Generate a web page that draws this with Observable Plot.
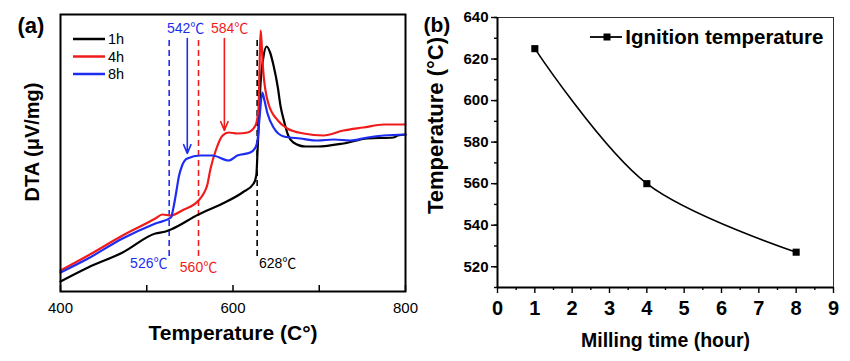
<!DOCTYPE html>
<html><head><meta charset="utf-8">
<script src="https://cdn.jsdelivr.net/npm/d3@7"></script>
<script src="https://cdn.jsdelivr.net/npm/@observablehq/plot@0.6"></script>
<style>
body{margin:0;background:#fff;}
#wrap{position:relative;width:850px;height:361px;font-family:"Liberation Sans",Arial,sans-serif;}
#wrap svg{position:absolute;top:0;overflow:visible;}
</style></head><body><div id="wrap"></div>
<script>
// ---- Panel (a): DTA curves (arbitrary units) ----
const t1h = [400,432,472,510,522,528,560,588,611,624,627,628.5,630,632,635,639,643,647,652,655,659,664,670,684,698,728,756,786,791,800];
const v1h = [10,24,39,58,60,62,77,88,99,108,116,141,171,209,233,245,239,226,204,186,171,156,149,145,145,148,153,154,156,157];
const t4h = [400,432,472,510,518,528,541,560,566,570,574,580,588,595,605,617,626,629.6,630.7,632,633,635,641,652,663,682,705,728,751,775,800];
const v4h = [21,36,56,73,77,76,81,91,98,106,123,141,156,159,158,159,166,183,221,261,251,221,188,171,163,158,156,161,164,167,167];
const t8h = [400,432,472,510,528,531,534.5,537,541,547,562,576,595,605,620,626,628.4,630.7,634,636.5,640,647,659,678,698,717,736,756,775,800];
const v8h = [19,33,53,68,74,84,101,114,126,133,136,136,131,136,139,144,151,173,199,191,178,164,155,153,151,152,151,154,156,157];
const seriesNames = ["1h","4h","8h"];
const seriesColors = ["#000000","#f01c1c","#1e2cf2"];

// dashed onset lines and labels
const onsetT = [526, 560, 628];
const onsetLabels = ["526℃","560℃","628℃"];
const onsetLabelT = [524, 560, 630];
const onsetAnchors = ["end","middle","start"];
const onsetColors = ["#1e2cf2","#f01c1c","#000000"];
const dashTop = 251, dashBottom = 35, onsetLabelV = [28, 24, 28];
// peak arrows and labels
const peakLabels = ["542℃","584℃"];
const peakLabelT = [545, 596];
const peakArrowT = [547, 590];
const peakArrowFrom = [253, 253];
const peakArrowTo = [138, 161];
const peakColors = ["#1e2cf2","#f01c1c"];
const peakLabelV = 263;

// ---- Panel (b) ----
const millingHours = [1, 4, 8];
const ignitionTemp = [625, 560, 527];

const font = '"Liberation Sans", Arial, sans-serif';
const annFont = '"Liberation Sans", "Noto Sans CJK KR", sans-serif';

const dta = [[t1h,v1h],[t4h,v4h],[t8h,v8h]].flatMap(([t,v],k) => t.map((x,i)=>({s:seriesNames[k], c:seriesColors[k], t:x, v:v[i]})));
const onsets = onsetT.map((t,i)=>({t, lt:onsetLabelT[i], label:onsetLabels[i], c:onsetColors[i], lv:onsetLabelV[i], anchor:onsetAnchors[i]}));
const peaks = peakLabels.map((l,i)=>({label:l, lt:peakLabelT[i], at:peakArrowT[i], v1:peakArrowFrom[i], v2:peakArrowTo[i], c:peakColors[i]}));

const plotA = Plot.plot({
  width: 420, height: 361,
  marginLeft: 60, marginRight: 15, marginTop: 14, marginBottom: 70,
  x: {domain: [400, 800]},
  y: {domain: [0, 277], axis: null},
  style: {fontFamily: font, background: "transparent", color: "#000"},
  marks: [
    Plot.ruleX(onsets, {x: "t", y1: dashBottom, y2: dashTop, stroke: "c", strokeWidth: 1.6, strokeDasharray: "6,4"}),
    Plot.line(dta, {x: "t", y: "v", z: "s", stroke: "c", strokeWidth: 2.2, curve: "monotone-x"}),
    Plot.arrow(peaks, {x1: "at", x2: "at", y1: "v1", y2: "v2", stroke: "c", strokeWidth: 1.6, headLength: 9, headAngle: 45}),
    Plot.text(peaks, {x: "lt", y: () => peakLabelV, text: "label", fill: "c", fontSize: 14, fontFamily: annFont}),
    ...onsetAnchors.map(a => Plot.text(onsets.filter(d => d.anchor === a), {x: "lt", y: "lv", text: "label", fill: "c", fontSize: 14, textAnchor: a, fontFamily: annFont})),
    Plot.frame({stroke: "#000", strokeWidth: 2}),
    Plot.axisX({ticks: [400,500,600,700,800], tickSize: -6, tickFormat: () => "", label: null, strokeWidth: 1.5}),
    Plot.axisX({ticks: [400,600,800], tickSize: 0, tickPadding: 11, fontSize: 15, label: null}),
    Plot.text(["Temperature (C°)"], {frameAnchor: "bottom", dy: 42, lineAnchor: "middle", fontSize: 21, fontWeight: "bold"}),
    Plot.text(["DTA (μV/mg)"], {frameAnchor: "left", dx: -28, dy: -11, rotate: -90, textAnchor: "middle", lineAnchor: "middle", fontSize: 20, fontWeight: "bold"}),
    Plot.text(["(a)"], {frameAnchor: "top-left", dx: -43, dy: 11, textAnchor: "start", lineAnchor: "middle", fontSize: 22, fontWeight: "bold"})
  ]
});

const ign = millingHours.map((h,i)=>({h, T: ignitionTemp[i]}));
const plotB = Plot.plot({
  width: 430, height: 361,
  marginLeft: 77, marginRight: 17, marginTop: 17, marginBottom: 74,
  x: {domain: [0, 9]},
  y: {domain: [510, 640]},
  style: {fontFamily: font, background: "transparent", color: "#000"},
  marks: [
    Plot.frame({stroke: "#333", strokeWidth: 1}),
    Plot.ruleX([0], {strokeWidth: 2}),
    Plot.ruleY([510], {strokeWidth: 2}),
    Plot.axisY({ticks: d3.range(510, 641, 10), tickSize: 3, tickFormat: () => "", label: null, strokeWidth: 1.4}),
    Plot.axisY({ticks: d3.range(520, 641, 20), tickSize: 6, tickPadding: 3, fontSize: 15, fontWeight: "bold", label: null, strokeWidth: 1.4}),
    Plot.axisX({ticks: d3.range(0.5, 9, 1), tickSize: 3, tickFormat: () => "", label: null, strokeWidth: 1.4}),
    Plot.axisX({ticks: d3.range(0, 10, 1), tickSize: 6, tickPadding: 7, fontSize: 20, fontWeight: "bold", label: null, strokeWidth: 1.4}),
    Plot.line(ign, {x: "h", y: "T", stroke: "#000", strokeWidth: 1.6, curve: "catmull-rom"}),
    Plot.dot(ign, {x: "h", y: "T", symbol: "square", r: 4, fill: "#000"}),
    Plot.text(["Ignition temperature"], {frameAnchor: "top-right", dx: -10, dy: 20, textAnchor: "end", lineAnchor: "middle", fontSize: 20.5, fontWeight: "bold"}),
    Plot.text(["Milling time (hour)"], {frameAnchor: "bottom", dy: 53, lineAnchor: "middle", fontSize: 19.5, fontWeight: "bold"}),
    Plot.text(["Temperature (°C)"], {frameAnchor: "left", dx: -62, dy: -27, rotate: -90, textAnchor: "middle", lineAnchor: "middle", fontSize: 22, fontWeight: "bold"}),
    Plot.text(["(b)"], {frameAnchor: "top-left", dx: -74, dy: 8, textAnchor: "start", lineAnchor: "middle", fontSize: 21, fontWeight: "bold"})
  ]
});

const wrap = document.getElementById("wrap");
plotA.style.left = "0px";
plotB.style.left = "420px";
wrap.appendChild(plotA);
wrap.appendChild(plotB);

// legend (a)
const gA = d3.select(plotA).append("g").attr("text-anchor", "start");
seriesNames.forEach((n, i) => {
  const y = 39 + i * 17.5;
  gA.append("line").attr("x1", 73).attr("x2", 105).attr("y1", y).attr("y2", y)
    .attr("stroke", seriesColors[i]).attr("stroke-width", 2.5);
  gA.append("text").attr("x", 108).attr("y", y).attr("dy", "0.35em").attr("text-anchor", "start")
    .attr("font-size", 14.5).attr("font-family", font).attr("fill", "#000").text(n);
});
// legend (b) sample
const gB = d3.select(plotB).append("g");
gB.append("line").attr("x1", 170).attr("x2", 202).attr("y1", 37).attr("y2", 37).attr("stroke", "#000").attr("stroke-width", 1.8);
gB.append("rect").attr("x", 183.5).attr("y", 33.5).attr("width", 7).attr("height", 7).attr("fill", "#000");
</script></body></html>
